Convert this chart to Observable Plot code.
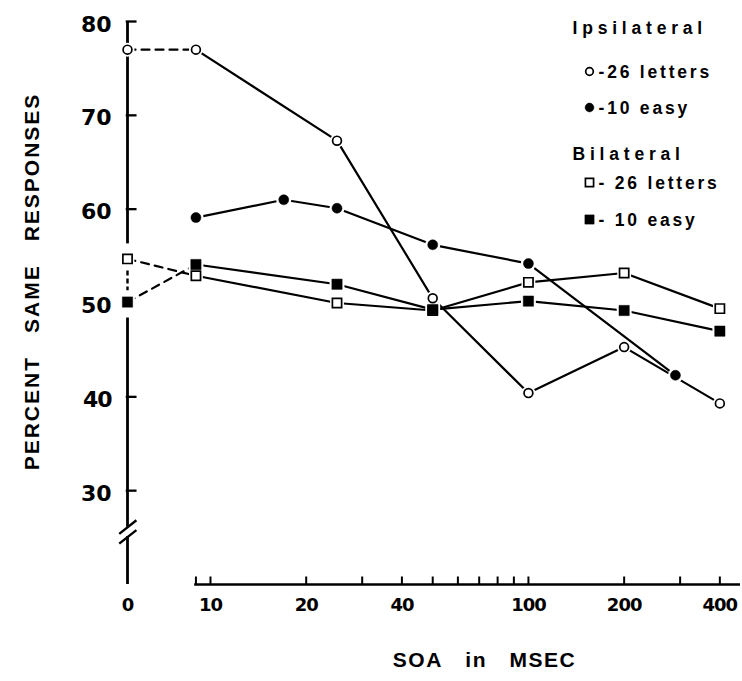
<!DOCTYPE html>
<html><head><meta charset="utf-8">
<script src="https://cdn.jsdelivr.net/npm/d3@7"></script>
<script src="https://cdn.jsdelivr.net/npm/@observablehq/plot@0.6"></script>
<style>
html,body{margin:0;padding:0;background:#fff;}
#chart svg{display:block;}
</style></head><body><div id="chart"></div>
<script>
// ---- data ----
const soaIpsi26 = [0, 9, 25, 50, 100, 200, 400];
const pctIpsi26 = [77, 77, 67.3, 50.5, 40.4, 45.3, 39.3];
const soaIpsi10 = [9, 17, 25, 50, 100, 290];
const pctIpsi10 = [59.1, 61.0, 60.1, 56.2, 54.2, 42.3];
const soaBi26 = [0, 9, 25, 50, 100, 200, 400];
const pctBi26 = [54.7, 52.9, 50.0, 49.2, 52.2, 53.2, 49.4];
const soaBi10 = [0, 9, 25, 50, 100, 200, 400];
const pctBi10 = [50.1, 54.1, 52.0, 49.3, 50.2, 49.2, 47.0];

const xTickLabels = [0, 10, 20, 40, 100, 200, 400];
const xTickMarks = [9, 10, 20, 30, 40, 50, 60, 70, 80, 90, 100, 200, 300, 400];
const yTickLabels = [30, 40, 50, 60, 70, 80];
const yTickMarks = [30, 40, 60, 70, 80];

const legendHeadings = ["Ipsilateral", "Bilateral"];
const legendLabels = ["-26 letters", "-10 easy", "- 26 letters", "- 10 easy"];
const xTitle = "SOA\u2003in\u2003MSEC";
const yTitle = "PERCENT\u2003SAME\u2003RESPONSES";

// ---- layout / style ----
const ZERO_POS = 0.739;            // where SOA = 0 sits on the log axis (axis break)
const X_END = 2.667;
const pos = v => v === 0 ? ZERO_POS : Math.log10(v);
const x0 = pos(0);

function rows(key, soa, pct) { return soa.map((s, i) => ({series: key, soa: s, pct: pct[i]})); }
const seriesDefs = [
  {key: "ipsi26", rows: rows("ipsi26", soaIpsi26, pctIpsi26), symbol: "circle", fill: "white", r: 4.4, sw: 1.7},
  {key: "ipsi10", rows: rows("ipsi10", soaIpsi10, pctIpsi10), symbol: "circle", fill: "black", r: 5.0, sw: 0.5},
  {key: "bi26",   rows: rows("bi26", soaBi26, pctBi26),       symbol: "square", fill: "white", r: 5.2, sw: 1.7},
  {key: "bi10",   rows: rows("bi10", soaBi10, pctBi10),       symbol: "square", fill: "black", r: 5.8, sw: 0.5}
];
const allRows = seriesDefs.flatMap(s => s.rows);

const font = "'Liberation Sans', Arial, sans-serif";
const numFont = "'DejaVu Sans', sans-serif";
const marks = [];

// y axis (with break)
marks.push(Plot.ruleX([0], {x: pos, y1: 80, y2: 56.3, stroke: "black", strokeWidth: 2.8}));
marks.push(Plot.ruleX([0], {x: pos, y1: 53.4, y2: 51.3, stroke: "black", strokeWidth: 2.4, strokeDasharray: "5,3"}));
marks.push(Plot.ruleX([0], {x: pos, y1: 48.4, y2: 26.1, stroke: "black", strokeWidth: 2.8}));
marks.push(Plot.ruleX([0], {x: pos, y1: 25.1, y2: 20, stroke: "black", strokeWidth: 2.8}));
marks.push(Plot.link([0], {x1: x0 - 0.026, x2: x0 + 0.028, y1: 25.4, y2: 26.85, stroke: "black", strokeWidth: 2.4}));
marks.push(Plot.link([0], {x1: x0 - 0.026, x2: x0 + 0.028, y1: 24.35, y2: 25.8, stroke: "black", strokeWidth: 2.4}));
marks.push(Plot.ruleY(yTickMarks, {y: d => d, x1: x0 - 0.004, x2: x0 + 0.03, stroke: "black", strokeWidth: 2.3}));
marks.push(Plot.text(yTickLabels, {x: x0, y: d => d, text: d => String(d), dx: -16, dy: 3, textAnchor: "end",
  fontSize: 22, fontWeight: "bold", fontFamily: numFont, fill: "black"}));

// x axis
marks.push(Plot.ruleY([20], {y: d => d, x1: pos(9) - 0.004, x2: X_END, stroke: "black", strokeWidth: 2.6}));
marks.push(Plot.ruleX(xTickMarks, {x: pos, y1: 20, y2: 20.8, stroke: "black", strokeWidth: 2}));
marks.push(Plot.text(xTickLabels, {x: pos, y: 20, text: d => String(d), dy: 26, lineAnchor: "bottom",
  fontSize: 18, fontWeight: "bold", fontFamily: numFont, fill: "black"}));

// data lines
marks.push(Plot.line(allRows.filter(d => d.soa <= 9 && seriesDefs.find(s => s.key === d.series).rows.some(r => r.soa === 0)),
  {x: d => pos(d.soa), y: "pct", z: "series", stroke: "black", strokeWidth: 2.2, strokeDasharray: "8,6"}));
marks.push(Plot.line(allRows.filter(d => d.soa >= 9),
  {x: d => pos(d.soa), y: "pct", z: "series", stroke: "black", strokeWidth: 2.2}));

// white halos then markers
for (const s of seriesDefs) {
  marks.push(Plot.dot(s.rows, {x: d => pos(d.soa), y: "pct", symbol: s.symbol, r: s.r + 2.6, fill: "white", stroke: "none"}));
}
for (const s of seriesDefs) {
  marks.push(Plot.dot(s.rows, {x: d => pos(d.soa), y: "pct", symbol: s.symbol, r: s.r, fill: s.fill, stroke: "black", strokeWidth: s.sw}));
}

// legend (frame top-left is at 127, 21)
const legX = 445, legRowX = 471, legSymX = 462;
const headDy = [12, 138];
const rowDy = [56, 92, 167, 204];
legendHeadings.forEach((t, i) => marks.push(Plot.text([t], {frameAnchor: "top-left", dx: legX, dy: headDy[i],
  lineAnchor: "bottom", textAnchor: "start", fontSize: 17.5, fontWeight: "bold", fontFamily: font, fill: "black"})));
legendLabels.forEach((t, i) => {
  const s = seriesDefs[i];
  marks.push(Plot.dot([0], {frameAnchor: "top-left", x: null, y: null, dx: legSymX, dy: rowDy[i] - 6,
    symbol: s.symbol, r: s.r - 0.6, fill: s.fill, stroke: "black", strokeWidth: s.sw}));
  marks.push(Plot.text([t], {frameAnchor: "top-left", dx: legRowX, dy: rowDy[i],
    lineAnchor: "bottom", textAnchor: "start", fontSize: 17.5, fontWeight: "bold", fontFamily: font, fill: "black"}));
});

// axis titles
marks.push(Plot.text([xTitle], {frameAnchor: "bottom-left", dx: 484 - 127, dy: 666 - 584, lineAnchor: "bottom",
  textAnchor: "middle", fontSize: 21, fontWeight: "bold", fontFamily: font, fill: "black"}));
marks.push(Plot.text([yTitle], {frameAnchor: "left", dx: 32 - 127, dy: 281 - 302.5, rotate: -90,
  lineAnchor: "middle", textAnchor: "middle", fontSize: 21, fontWeight: "bold", fontFamily: font, fill: "black"}));

const chart = Plot.plot({
  width: 742, height: 681,
  marginLeft: 127, marginRight: 2, marginTop: 21, marginBottom: 97,
  x: {type: "linear", domain: [ZERO_POS, X_END], axis: null},
  y: {type: "linear", domain: [20, 80], axis: null},
  style: {background: "white", overflow: "visible"},
  marks
});
// letter spacing (not a Plot text option): applied to the rendered text elements
const spacing = new Map([
  ...legendHeadings.map(t => [t, "4.8px"]),
  ...legendLabels.map(t => [t, "2.8px"]),
  [xTitle, "1.5px"], [yTitle, "2px"],
  ...xTickLabels.map(t => [String(t), "-1px"])
]);
d3.select(chart).selectAll("text").each(function() {
  const ls = spacing.get(this.textContent);
  if (ls) this.style.letterSpacing = ls;
});
document.getElementById("chart").appendChild(chart);
</script>
</body></html>
